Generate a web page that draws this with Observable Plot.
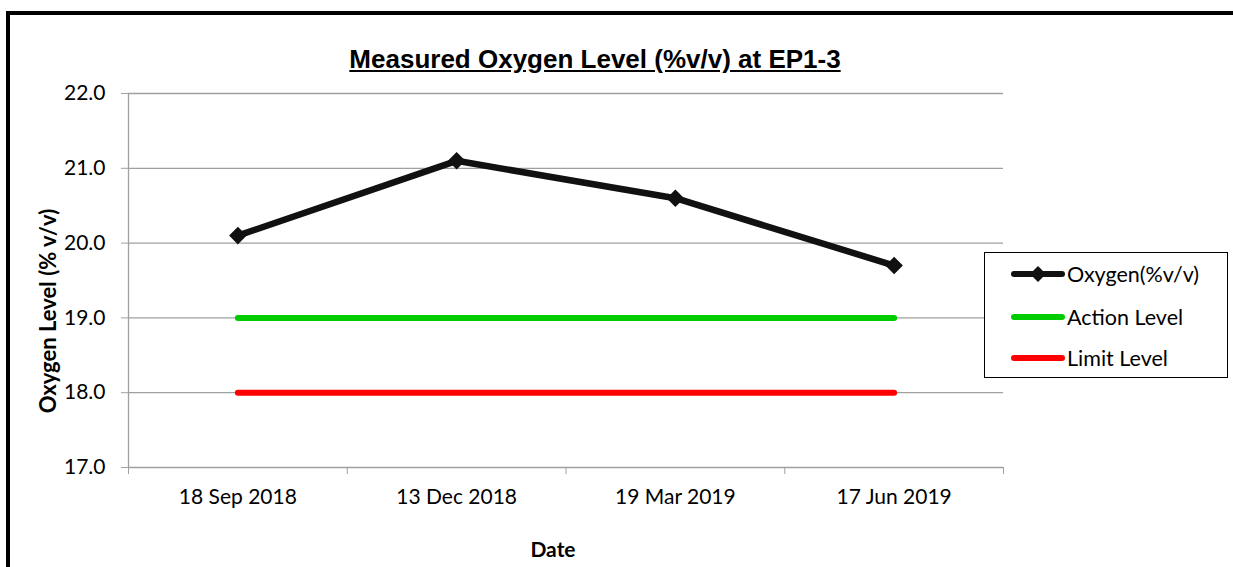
<!DOCTYPE html>
<html>
<head>
<meta charset="utf-8">
<script src="https://cdn.jsdelivr.net/npm/d3@7"></script>
<script src="https://cdn.jsdelivr.net/npm/@observablehq/plot@0.6"></script>
<style>
  html, body { margin: 0; padding: 0; background: #fff; }
  #wrap { position: relative; width: 1233px; height: 567px; overflow: hidden; font-family: Lato, "Open Sans", sans-serif; }
  #frame { position: absolute; left: 6px; top: 11px; right: -10px; bottom: -10px; border-top: 4px solid #000; border-left: 4px solid #000; pointer-events: none; }
  .abs { position: absolute; white-space: nowrap; }
  #title { left: 595px; top: 44px; transform: translateX(-50%); font-family: "Liberation Sans", Arial, sans-serif; font-weight: bold; font-size: 26px; line-height: 30px; text-decoration: underline; text-underline-offset: 2px; }
  #ylab { left: 47px; top: 311px; transform: translate(-50%, -50%) rotate(-90deg); font-weight: bold; font-size: 22px; }
  #xlab { left: 553px; top: 548px; transform: translate(-50%, -50%); font-weight: bold; font-size: 21px; }
  #legend { position: absolute; left: 984px; top: 252px; width: 242px; height: 124px; border: 1.5px solid #000; background: #fff; }
  .row { position: absolute; left: 26px; height: 24px; display: flex; align-items: center; font-size: 21.5px; }
  .row svg { margin-right: 2px; }
</style>
</head>
<body>
<div id="wrap">
  <div id="chart"></div>
  <div id="frame"></div>
  <div id="title" class="abs"></div>
  <div id="ylab" class="abs"></div>
  <div id="xlab" class="abs"></div>
  <div id="legend"></div>
</div>
<script>
const titleText = "Measured Oxygen Level (%v/v) at EP1-3";
const yLabel = "Oxygen Level (% v/v)";
const xLabel = "Date";
const dates = ["18 Sep 2018", "13 Dec 2018", "19 Mar 2019", "17 Jun 2019"];
const oxygen = [20.1, 21.1, 20.6, 19.7];
const actionLevel = [19.0, 19.0, 19.0, 19.0];
const limitLevel = [18.0, 18.0, 18.0, 18.0];
const yTicks = [17, 18, 19, 20, 21, 22];
const seriesNames = ["Oxygen(%v/v)", "Action Level", "Limit Level"];
const seriesColors = ["#111111", "#00cc00", "#ff0000"];

const data = dates.map((d, i) => ({i, date: d, oxygen: oxygen[i], action: actionLevel[i], limit: limitLevel[i]}));
const boundaries = d3.range(dates.length + 1).map(k => k - 0.5);
const grid = "#a0a0a0";

const chart = Plot.plot({
  width: 1233,
  height: 567,
  marginLeft: 128,
  marginRight: 230,
  marginTop: 93,
  marginBottom: 100,
  x: {type: "linear", domain: [-0.5, dates.length - 0.5]},
  y: {domain: [17, 22]},
  style: {fontFamily: "Lato, 'Open Sans', sans-serif", fontSize: "21px", color: "#000", background: "transparent"},
  marks: [
    Plot.gridY(yTicks, {stroke: grid, strokeOpacity: 1, strokeWidth: 1.3}),
    Plot.ruleX([-0.5], {stroke: grid, strokeWidth: 1.3}),
    Plot.axisY(yTicks, {tickFormat: d => d.toFixed(1), tickSize: 7, tickPadding: 16, stroke: grid, fill: "#000", label: null}),
    Plot.axisX(boundaries, {tickSize: 7, tickFormat: () => "", stroke: grid, label: null}),
    Plot.axisX(d3.range(dates.length), {tickSize: 0, tickPadding: 22, tickFormat: i => dates[i], fill: "#000", label: null}),
    Plot.line(data, {x: "i", y: "limit", stroke: seriesColors[2], strokeWidth: 6, strokeLinecap: "round"}),
    Plot.line(data, {x: "i", y: "action", stroke: seriesColors[1], strokeWidth: 6, strokeLinecap: "round"}),
    Plot.line(data, {x: "i", y: "oxygen", stroke: seriesColors[0], strokeWidth: 6.5, strokeLinejoin: "round"}),
    Plot.dot(data, {x: "i", y: "oxygen", symbol: "square", r: 7, rotate: 45, fill: seriesColors[0]})
  ]
});
document.getElementById("chart").appendChild(chart);

document.getElementById("title").textContent = titleText;
document.getElementById("ylab").textContent = yLabel;
document.getElementById("xlab").textContent = xLabel;

const legend = document.getElementById("legend");
const rowTops = [9, 52, 93];
seriesNames.forEach((name, k) => {
  const row = document.createElement("div");
  row.className = "row";
  row.style.top = rowTops[k] + "px";
  const ns = "http://www.w3.org/2000/svg";
  const svg = document.createElementNS(ns, "svg");
  svg.setAttribute("width", 54);
  svg.setAttribute("height", 20);
  const ln = document.createElementNS(ns, "line");
  ln.setAttribute("x1", 3); ln.setAttribute("x2", 51);
  ln.setAttribute("y1", 10); ln.setAttribute("y2", 10);
  ln.setAttribute("stroke", seriesColors[k]);
  ln.setAttribute("stroke-width", 6);
  ln.setAttribute("stroke-linecap", "round");
  svg.appendChild(ln);
  if (k === 0) {
    const dm = document.createElementNS(ns, "path");
    dm.setAttribute("d", "M27,2 L35,10 L27,18 L19,10 Z");
    dm.setAttribute("fill", seriesColors[0]);
    svg.appendChild(dm);
  }
  row.appendChild(svg);
  const t = document.createElement("span");
  t.textContent = name;
  row.appendChild(t);
  legend.appendChild(row);
});
</script>
</body>
</html>
